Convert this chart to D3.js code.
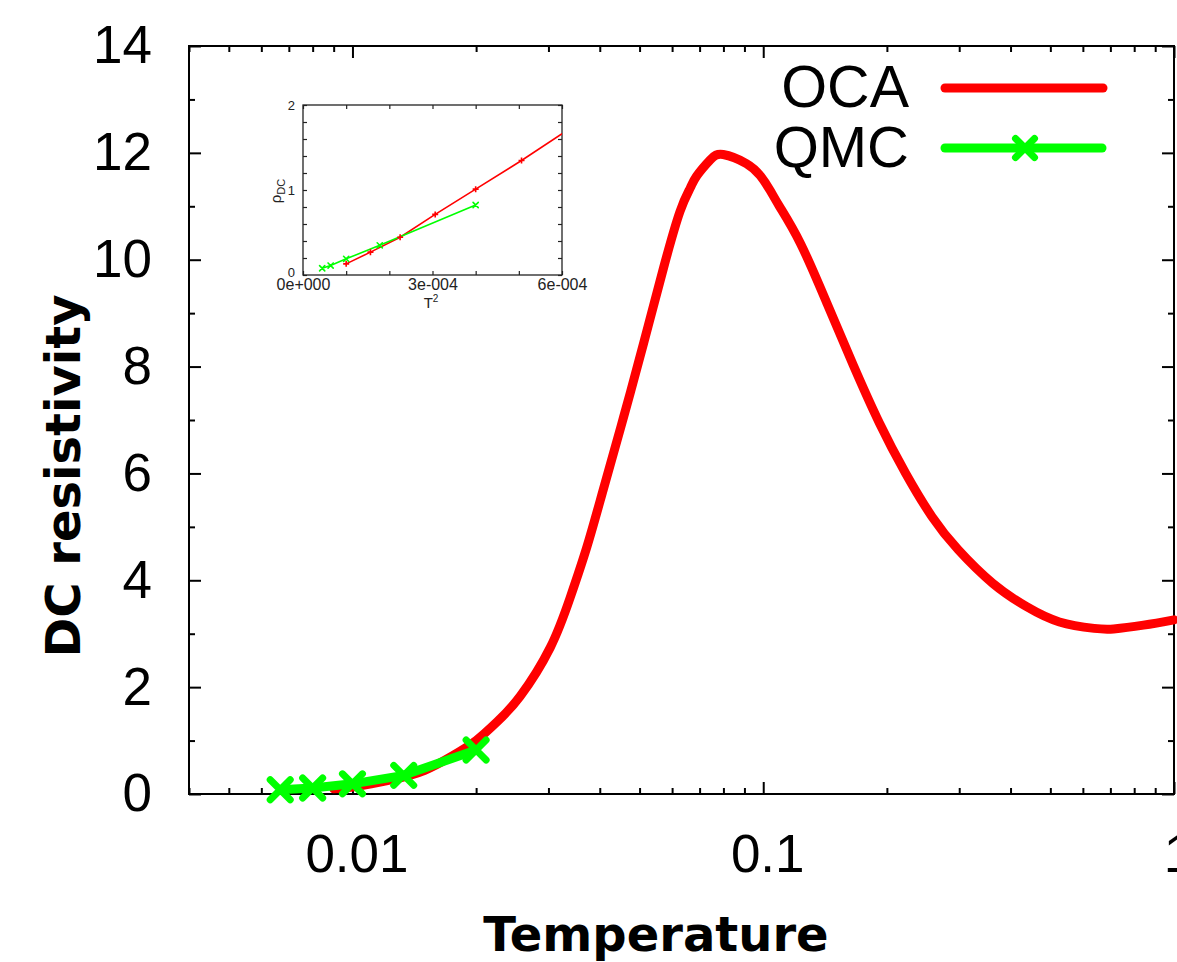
<!DOCTYPE html>
<html>
<head>
<meta charset="utf-8">
<script src="https://cdn.jsdelivr.net/npm/d3@7/dist/d3.min.js"></script>
<style>
  html, body { margin: 0; padding: 0; background: #fff; overflow: hidden; }
  svg { display: block; }
</style>
</head>
<body>
<svg id="chart" width="1177" height="962"></svg>
<script>
// ---------------- data ----------------
// Main panel: OCA curve (Temperature, DC resistivity)
const ocaT   = [0.009, 0.01, 0.0125, 0.015, 0.0175, 0.02, 0.0225, 0.0256, 0.0303, 0.0339, 0.0372, 0.0408,
                0.0457, 0.0512, 0.0572, 0.0627, 0.0664, 0.0689, 0.0743, 0.0799, 0.091, 0.0984, 0.1039, 0.1097,
                0.1233, 0.143, 0.1656, 0.1919, 0.2223, 0.2576, 0.2984, 0.3624, 0.4367, 0.5261, 0.6393,
                0.7128, 0.8426, 1.0];
const ocaRho = [0.10, 0.131, 0.269, 0.444, 0.713, 1.0, 1.35, 1.83, 2.74, 3.68, 4.62, 5.70,
                7.05, 8.45, 9.85, 10.90, 11.34, 11.57, 11.87, 11.97, 11.80, 11.57, 11.30, 10.99,
                10.30, 9.18, 8.03, 6.94, 6.0, 5.19, 4.57, 3.94, 3.51, 3.22, 3.10,
                3.09, 3.16, 3.26];
// Main panel: QMC points
const qmcT   = [0.00667, 0.008, 0.01, 0.01333, 0.02];
const qmcRho = [0.079, 0.111, 0.19, 0.349, 0.824];

// Inset: rho_DC vs T^2
const insetOcaT2  = [1.0e-4, 1.5625e-4, 2.25e-4, 3.0625e-4, 4.0e-4, 5.0625e-4, 6.25e-4];
const insetOcaRho = [0.131, 0.269, 0.444, 0.713, 1.01, 1.347, 1.745];
const insetQmcT2  = [4.44e-5, 6.4e-5, 1.0e-4, 1.778e-4, 4.0e-4];
const insetQmcRho = [0.079, 0.111, 0.19, 0.349, 0.824];

// Tick values / labels
const xMajorTicks = [0.01, 0.1, 1];
const xMajorLabels = ["0.01", "0.1", "1"];
const xMinorTicks = [0.004,0.005,0.006,0.007,0.008,0.009,0.02,0.03,0.04,0.05,0.06,0.07,0.08,0.09,
                     0.2,0.3,0.4,0.5,0.6,0.7,0.8,0.9];
const yMajorTicks = [0, 2, 4, 6, 8, 10, 12, 14];
const yMinorTicks = [1, 3, 5, 7, 9, 11, 13];
const insetXTicks = [0, 1e-4, 2e-4, 3e-4, 4e-4, 5e-4, 6e-4];
const insetXLabelTicks = [0, 3e-4, 6e-4];
const insetXLabels = ["0e+000", "3e-004", "6e-004"];
const insetYTicks = [0, 0.2, 0.4, 0.6, 0.8, 1, 1.2, 1.4, 1.6, 1.8, 2];
const insetYLabelTicks = [0, 1, 2];

const seriesNames = ["OCA", "QMC"];
const RED = "#ff0000", GREEN = "#00ff00";

// ---------------- layout ----------------
const svg = d3.select("#chart");
const L = 189, R = 1174, T = 46, B = 794;
const x = d3.scaleLog().domain([0.004, 1]).range([L, R]);
const y = d3.scaleLinear().domain([0, 14]).range([B, T]);
const SANS = "'Liberation Sans', Arial, Helvetica, sans-serif";
const BOLD = "'DejaVu Sans', Verdana, sans-serif";

function styleAxis(g) {
  g.select(".domain").remove();
  g.selectAll("line").attr("stroke", "#000").attr("stroke-width", 2);
}

// major/minor ticks on all four sides (inward)
const bx = svg.append("g").attr("transform", `translate(0,${B})`)
  .call(d3.axisBottom(x).tickValues(xMajorTicks).tickSize(-12).tickPadding(40)
        .tickFormat((d, i) => xMajorLabels[i]));
styleAxis(bx);
bx.selectAll("text").attr("font-family", SANS).attr("font-size", 53).attr("fill", "#000")
  .attr("dy", "0.71em").attr("dx", 4);
svg.append("g").attr("transform", `translate(0,${B})`)
  .call(d3.axisBottom(x).tickValues(xMinorTicks).tickSize(-6).tickFormat(""))
  .call(styleAxis);
svg.append("g").attr("transform", `translate(0,${T})`)
  .call(d3.axisTop(x).tickValues(xMajorTicks).tickSize(-12).tickFormat(""))
  .call(styleAxis);
svg.append("g").attr("transform", `translate(0,${T})`)
  .call(d3.axisTop(x).tickValues(xMinorTicks).tickSize(-6).tickFormat(""))
  .call(styleAxis);

const ly = svg.append("g").attr("transform", `translate(${L},0)`)
  .call(d3.axisLeft(y).tickValues(yMajorTicks).tickSize(-12).tickPadding(37).tickFormat(d3.format("d")));
styleAxis(ly);
ly.selectAll("text").attr("font-family", SANS).attr("font-size", 53).attr("fill", "#000");
svg.append("g").attr("transform", `translate(${L},0)`)
  .call(d3.axisLeft(y).tickValues(yMinorTicks).tickSize(-6).tickFormat(""))
  .call(styleAxis);
svg.append("g").attr("transform", `translate(${R},0)`)
  .call(d3.axisRight(y).tickValues(yMajorTicks).tickSize(-12).tickFormat(""))
  .call(styleAxis);
svg.append("g").attr("transform", `translate(${R},0)`)
  .call(d3.axisRight(y).tickValues(yMinorTicks).tickSize(-6).tickFormat(""))
  .call(styleAxis);

// frame
svg.append("rect").attr("x", L).attr("y", T).attr("width", R - L).attr("height", B - T)
  .attr("fill", "none").attr("stroke", "#000").attr("stroke-width", 2);

// axis titles
svg.append("text").attr("x", 656).attr("y", 951).attr("text-anchor", "middle")
  .attr("font-family", BOLD).attr("font-weight", "bold").attr("font-size", 48)
  .text("Temperature");
svg.append("text").attr("transform", "translate(80,476) rotate(-90)").attr("text-anchor", "middle")
  .attr("font-family", BOLD).attr("font-weight", "bold").attr("font-size", 48)
  .text("DC resistivity");

// ---------------- main series ----------------
const ocaData = ocaT.map((t, i) => [t, ocaRho[i]]);
const qmcData = qmcT.map((t, i) => [t, qmcRho[i]]);
const line = d3.line().x(d => x(d[0])).y(d => y(d[1])).curve(d3.curveNatural);

svg.append("path").datum(ocaData).attr("d", line)
  .attr("fill", "none").attr("stroke", RED).attr("stroke-width", 9)
  .attr("stroke-linecap", "round").attr("stroke-linejoin", "round");

svg.append("path").datum(qmcData).attr("d", d3.line().x(d => x(d[0])).y(d => y(d[1])))
  .attr("fill", "none").attr("stroke", GREEN).attr("stroke-width", 9)
  .attr("stroke-linecap", "round").attr("stroke-linejoin", "round");

function xMark(g, cx, cy, s, w, color) {
  g.append("path").attr("d", `M${cx - s},${cy - s}L${cx + s},${cy + s}M${cx - s},${cy + s}L${cx + s},${cy - s}`)
    .attr("stroke", color).attr("stroke-width", w).attr("stroke-linecap", "round").attr("fill", "none");
}
function plusMark(g, cx, cy, s, w, color) {
  g.append("path").attr("d", `M${cx - s},${cy}L${cx + s},${cy}M${cx},${cy - s}L${cx},${cy + s}`)
    .attr("stroke", color).attr("stroke-width", w).attr("fill", "none");
}
const mk = svg.append("g");
qmcData.forEach(d => xMark(mk, x(d[0]), y(d[1]), 10, 7, GREEN));

// ---------------- legend ----------------
const leg = svg.append("g");
leg.append("text").attr("x", 909).attr("y", 107).attr("text-anchor", "end")
  .attr("font-family", SANS).attr("font-size", 59).text(seriesNames[0]);
leg.append("text").attr("x", 909).attr("y", 167).attr("text-anchor", "end")
  .attr("font-family", SANS).attr("font-size", 58).text(seriesNames[1]);
leg.append("line").attr("x1", 945).attr("x2", 1103).attr("y1", 88).attr("y2", 88)
  .attr("stroke", RED).attr("stroke-width", 9).attr("stroke-linecap", "round");
leg.append("line").attr("x1", 945).attr("x2", 1102).attr("y1", 148).attr("y2", 148)
  .attr("stroke", GREEN).attr("stroke-width", 9).attr("stroke-linecap", "round");
xMark(leg, 1025, 148, 9.5, 7, GREEN);

// ---------------- inset ----------------
const IL = 303, IR = 562, IT = 105, IB = 275;
const ix = d3.scaleLinear().domain([0, 6e-4]).range([IL, IR]);
const iy = d3.scaleLinear().domain([0, 2]).range([IB, IT]);
const inset = svg.append("g");
inset.append("rect").attr("x", IL).attr("y", IT).attr("width", IR - IL).attr("height", IB - IT)
  .attr("fill", "#fff");
const INK = "#222";
function styleInset(g) {
  g.select(".domain").remove();
  g.selectAll("line").attr("stroke", INK).attr("stroke-width", 1.2);
}
inset.append("g").attr("transform", `translate(0,${IB})`)
  .call(d3.axisBottom(ix).tickValues(insetXTicks).tickSize(-4).tickFormat("")).call(styleInset);
inset.append("g").attr("transform", `translate(0,${IT})`)
  .call(d3.axisTop(ix).tickValues(insetXTicks).tickSize(-4).tickFormat("")).call(styleInset);
inset.append("g").attr("transform", `translate(${IL},0)`)
  .call(d3.axisLeft(iy).tickValues(insetYTicks).tickSize(-4).tickFormat("")).call(styleInset);
inset.append("g").attr("transform", `translate(${IR},0)`)
  .call(d3.axisRight(iy).tickValues(insetYTicks).tickSize(-4).tickFormat("")).call(styleInset);

const ibx = inset.append("g").attr("transform", `translate(0,${IB})`)
  .call(d3.axisBottom(ix).tickValues(insetXLabelTicks).tickSize(0).tickPadding(4)
        .tickFormat((d, i) => insetXLabels[i]));
ibx.select(".domain").remove();
ibx.selectAll("text").attr("font-family", SANS).attr("font-size", 16).attr("fill", INK);
const ily = inset.append("g").attr("transform", `translate(${IL},0)`)
  .call(d3.axisLeft(iy).tickValues(insetYLabelTicks).tickSize(0).tickPadding(8).tickFormat(d3.format("d")));
ily.select(".domain").remove();
ily.selectAll("text").attr("font-family", SANS).attr("font-size", 13).attr("fill", INK);
ily.selectAll("text").filter(d => d === 0).attr("dy", "0.1em");

inset.append("rect").attr("x", IL).attr("y", IT).attr("width", IR - IL).attr("height", IB - IT)
  .attr("fill", "none").attr("stroke", INK).attr("stroke-width", 1.3);

svg.append("defs").append("clipPath").attr("id", "insetClip")
  .append("rect").attr("x", IL).attr("y", IT).attr("width", IR - IL).attr("height", IB - IT);

const iline = d3.line().x(d => ix(d[0])).y(d => iy(d[1]));
const iOca = insetOcaT2.map((t, i) => [t, insetOcaRho[i]]);
const iQmc = insetQmcT2.map((t, i) => [t, insetQmcRho[i]]);
const ic = inset.append("g").attr("clip-path", "url(#insetClip)");
ic.append("path").datum(iOca).attr("d", iline).attr("fill", "none")
  .attr("stroke", RED).attr("stroke-width", 1.6);
ic.append("path").datum(iQmc).attr("d", iline).attr("fill", "none")
  .attr("stroke", GREEN).attr("stroke-width", 1.6);
iOca.filter(d => d[0] <= 6e-4).forEach(d => plusMark(ic, ix(d[0]), iy(d[1]), 3, 1.6, RED));
iQmc.forEach(d => xMark(ic, ix(d[0]), iy(d[1]), 2.6, 1.6, GREEN));

// inset axis titles
const iyl = inset.append("text").attr("transform", "translate(281,191) rotate(-90)")
  .attr("text-anchor", "middle").attr("font-family", SANS).attr("fill", INK).attr("font-size", 15);
iyl.append("tspan").text("ρ");
iyl.append("tspan").attr("font-size", 11).attr("dy", 4).text("DC");
const ixl = inset.append("text").attr("x", 431).attr("y", 308)
  .attr("text-anchor", "middle").attr("font-family", SANS).attr("fill", INK).attr("font-size", 15);
ixl.append("tspan").text("T");
ixl.append("tspan").attr("font-size", 10).attr("dy", -6).text("2");
</script>
</body>
</html>
